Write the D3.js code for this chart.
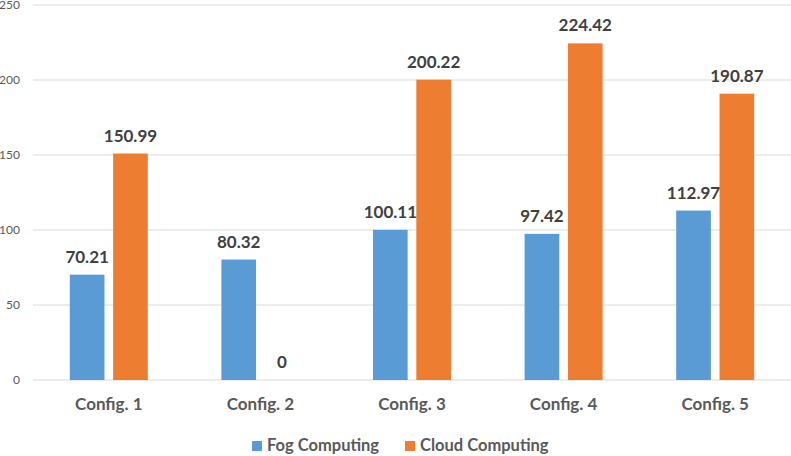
<!DOCTYPE html>
<html><head><meta charset="utf-8">
<script src="https://cdn.jsdelivr.net/npm/d3@7"></script>
<style>body{margin:0;background:#fff}svg{display:block}</style>
</head><body>
<svg id="c" width="791" height="456"></svg>
<script>
const categories = ["Config. 1","Config. 2","Config. 3","Config. 4","Config. 5"];
const seriesNames = ["Fog Computing","Cloud Computing"];
const fogValues = [70.21, 80.32, 100.11, 97.42, 112.97];
const cloudValues = [150.99, 0, 200.22, 224.42, 190.87];
const yTicks = [0,50,100,150,200,250];
const colors = ["#5b9bd5","#ed7d31"];

const svg = d3.select("#c");
const font = "Lato, 'Open Sans', sans-serif";
const x = d3.scaleBand().domain(categories).range([33,791]);
const y = d3.scaleLinear().domain([0,250]).range([380,5]);
const inner = d3.scaleBand().domain(seriesNames).range([0,78]).paddingInner(0.2);

// gridlines
svg.append("g").selectAll("line").data(yTicks).join("line")
  .attr("x1",33).attr("x2",791).attr("y1",d=>y(d)).attr("y2",d=>y(d))
  .attr("stroke","#d9d9d9").attr("stroke-width",1);

// y axis labels
const yAxis = d3.axisLeft(y).tickValues(yTicks).tickSize(0).tickPadding(0);
const gy = svg.append("g").attr("transform","translate(20,0)").call(yAxis);
gy.select(".domain").remove();
gy.selectAll("text").attr("font-family",font).attr("font-size",12).attr("fill","#595959");

const data = categories.map((c,i)=>({c, vals:[fogValues[i], cloudValues[i]]}));
const groups = svg.append("g").selectAll("g").data(data).join("g")
  .attr("transform",d=>`translate(${x(d.c)+x.bandwidth()/2-39},0)`);
groups.selectAll("rect").data(d=>d.vals.map((v,j)=>({v,s:seriesNames[j],j}))).join("rect")
  .attr("x",d=>inner(d.s)).attr("width",inner.bandwidth())
  .attr("y",d=>y(d.v)).attr("height",d=>y(0)-y(d.v)).attr("fill",d=>colors[d.j]);
groups.selectAll("text").data(d=>d.vals.map((v,j)=>({v,s:seriesNames[j],j}))).join("text")
  .attr("x",d=>inner(d.s)+inner.bandwidth()/2).attr("y",d=>y(d.v)-12)
  .attr("text-anchor","middle").attr("font-family",font).attr("font-weight","bold")
  .attr("font-size",17).attr("fill","#404040")
  .text(d=>d.v);

// x axis labels
const xAxis = d3.axisBottom(x).tickSize(0).tickPadding(0);
const gx = svg.append("g").attr("transform","translate(0,410)").call(xAxis);
gx.select(".domain").remove();
gx.selectAll("text").attr("dy",0).attr("font-family",font).attr("font-size",17).attr("font-weight","bold").attr("fill","#595959");

// legend
const legendX = [252, 405];
const lg = svg.append("g").selectAll("g").data(seriesNames).join("g")
  .attr("transform",(d,i)=>`translate(${legendX[i]},441)`);
lg.append("rect").attr("width",10).attr("height",10).attr("fill",(d,i)=>colors[i]);
lg.append("text").attr("x",15).attr("y",10).attr("font-family",font).attr("font-size",16.5)
  .attr("font-weight","bold").attr("fill","#595959").text(d=>d);
</script>
</body></html>
